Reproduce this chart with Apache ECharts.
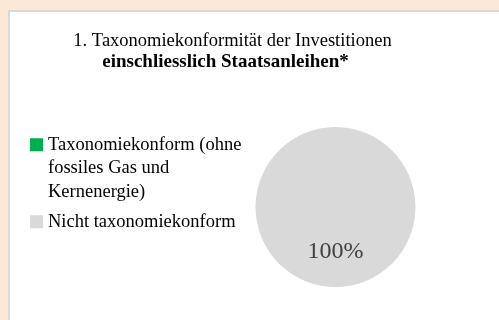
<!DOCTYPE html>
<html>
<head>
<meta charset="utf-8">
<script src="https://cdn.jsdelivr.net/npm/echarts@6/dist/echarts.min.js"></script>
<style>
  html, body { margin: 0; padding: 0; background: #fbe8d6; }
  #panel {
    position: absolute; left: 8px; top: 10px; width: 520px; height: 340px;
    background: #ffffff; border-left: 2px solid #d9d9d9; border-top: 2px solid #d9d9d9;
  }
  #chart { position: absolute; left: 0; top: 0; width: 499px; height: 320px; }
</style>
</head>
<body>
<div id="panel"></div>
<div id="chart"></div>
<script>
// Share of investments aligned with the EU taxonomy, including sovereign bonds
const titleLines = ['1. Taxonomiekonformität der Investitionen', 'einschliesslich Staatsanleihen*'];
const categories = ['Taxonomiekonform (ohne\nfossiles Gas und\nKernenergie)', 'Nicht taxonomiekonform'];
const values = [0, 100];
const colors = ['#00b050', '#d9d9d9'];

const FONT = '"Liberation Serif", "Times New Roman", serif';

const chart = echarts.init(document.getElementById('chart'), null, { renderer: 'canvas' });

const legendBase = {
  orient: 'vertical',
  left: 25,
  itemWidth: 13,
  itemHeight: 13,
  icon: 'rect',
  selectedMode: false,
  textStyle: { fontFamily: FONT, fontSize: 18.5, color: '#000000', lineHeight: 23.5 }
};

// Legend text is centred on its swatch, so multi-line names get blank lines
// above them until the first line sits level with the swatch.
function alignFirstLine(name) {
  const extra = name.split('\n').length - 1;
  return '\n'.repeat(extra) + name;
}

chart.setOption({
  backgroundColor: 'transparent',
  animation: false,
  title: [
    {
      text: titleLines[0], left: 232.5, top: 32, padding: 0, textAlign: 'center',
      textStyle: { fontFamily: FONT, fontSize: 18.5, fontWeight: 'normal', color: '#000000' }
    },
    {
      text: titleLines[1], left: 225.5, top: 53, padding: 0, textAlign: 'center',
      textStyle: { fontFamily: FONT, fontSize: 19, fontWeight: 'bold', color: '#000000' }
    }
  ],
  legend: [
    Object.assign({}, legendBase, {
      top: 81,
      data: [categories[0]],
      formatter: alignFirstLine
    }),
    Object.assign({}, legendBase, {
      top: 205,
      data: [categories[1]]
    })
  ],
  series: [{
    type: 'pie',
    center: [335.5, 207],
    radius: [0, 80],
    startAngle: 90,
    clockwise: true,
    avoidLabelOverlap: false,
    label: {
      show: true,
      position: 'inside',
      offset: [0, 2],
      fontFamily: FONT,
      fontSize: 24,
      color: '#404040',
      formatter: p => p.value > 0 ? p.value + '%' : ''
    },
    labelLine: { show: false },
    emphasis: { disabled: true },
    data: categories.map((name, i) => ({
      name: name,
      value: values[i],
      itemStyle: { color: colors[i] }
    }))
  }]
});
</script>
</body>
</html>
